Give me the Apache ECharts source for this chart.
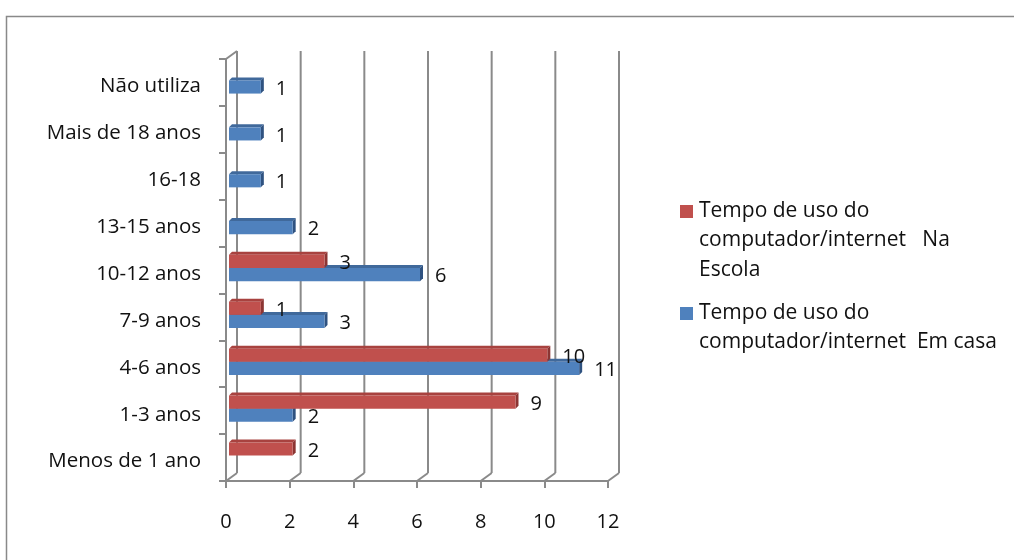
<!DOCTYPE html>
<html>
<head>
<meta charset="utf-8">
<script src="https://cdn.jsdelivr.net/npm/echarts@6/dist/echarts.min.js"></script>
<style>
  html, body { margin: 0; padding: 0; background: #ffffff; }
  #chart { width: 1014px; height: 560px; }
</style>
</head>
<body>
<div id="chart"></div>
<script>
// Categories, bottom to top on the vertical axis
const categories = ['Menos de 1 ano', '1-3 anos', '4-6 anos', '7-9 anos', '10-12 anos', '13-15 anos', '16-18', 'Mais de 18 anos', 'Não utiliza'];
// Series values (null = no bar)
const escola = [2, 9, 10, 1, 3, null, null, null, null];
const casa = [null, 2, 11, 3, 6, 2, 1, 1, 1];
const seriesNames = ['Tempo de uso do computador/internet   Na Escola', 'Tempo de uso do computador/internet  Em casa'];
const legendLines = [
  ['Tempo de uso do', 'computador/internet   Na', 'Escola'],
  ['Tempo de uso do', 'computador/internet  Em casa']
];
const xTicks = [0, 2, 4, 6, 8, 10, 12];

const FONT = 'Open Sans';
const TEXT_COLOR = '#111111';
const DEPTH = [11, -8];      // offset from front plane to back wall
const BAR_DEPTH = 3;         // visible depth of each bar
const palette = {
  escola: { front: '#C0504D', top: '#A8423F', side: '#8C3533' },
  casa:   { front: '#4F81BD', top: '#40699B', side: '#2F5280' }
};

function toItems(arr) {
  const out = [];
  arr.forEach((v, i) => { if (v !== null) out.push([v, i]); });
  return out;
}

// 3D bar: front face, top face, right side face and value label
function barRenderer(colors, slot) {
  return function (params, api) {
    const v = api.value(0);
    const ci = api.value(1);
    const p0 = api.coord([0, ci]);
    const p1 = api.coord([v, ci]);
    const band = api.size([0, 1])[1];
    const thick = band * 0.28;
    const c = p0[1];
    const top = slot === 0 ? c - 2 - thick : c - 2;
    const x0 = p0[0] + 3;
    const x1 = p1[0] + 3;
    const d = BAR_DEPTH;
    return {
      type: 'group',
      children: [
        { type: 'polygon', shape: { points: [[x0, top], [x1, top], [x1 + d, top - d], [x0 + d, top - d]] }, style: { fill: colors.top } },
        { type: 'polygon', shape: { points: [[x1, top], [x1 + d, top - d], [x1 + d, top + thick - d], [x1, top + thick]] }, style: { fill: colors.side } },
        { type: 'rect', shape: { x: x0, y: top, width: x1 - x0, height: thick }, style: { fill: colors.front } },
        { type: 'text', x: x1 + 15, y: top + thick / 2 + 2, style: { text: String(v), fill: TEXT_COLOR, font: '20px "' + FONT + '"', align: 'left', verticalAlign: 'middle' }, z2: 10 }
      ]
    };
  };
}

// Back wall gridlines and floor diagonals
function frameRenderer(params, api) {
  const cs = params.coordSys;
  const v = api.value(0);
  const x = api.coord([v, 0])[0];
  const bottom = cs.y + cs.height;
  const lineStyle = { stroke: '#8a8a8a', lineWidth: 2 };
  const children = [
    { type: 'line', shape: { x1: x, y1: bottom, x2: x + DEPTH[0], y2: bottom + DEPTH[1] }, style: lineStyle },
    { type: 'line', shape: { x1: x + DEPTH[0], y1: bottom + DEPTH[1], x2: x + DEPTH[0], y2: cs.y + DEPTH[1] }, style: lineStyle }
  ];
  if (v === 0) {
    children.push({ type: 'line', shape: { x1: x, y1: cs.y, x2: x + DEPTH[0], y2: cs.y + DEPTH[1] }, style: lineStyle });
  }
  return { type: 'group', children: children };
}

const chart = echarts.init(document.getElementById('chart'), null, { renderer: 'canvas' });

const legendGraphics = [];
const legendColors = [palette.escola.front, palette.casa.front];
const legendTops = [211, 313];
legendLines.forEach((lines, i) => {
  legendGraphics.push({ type: 'rect', left: 680, top: legendTops[i] - 6, shape: { width: 13, height: 13 }, style: { fill: legendColors[i] } });
  legendGraphics.push({ type: 'text', left: 699, top: legendTops[i] - 15, style: { text: lines.join('\n'), fill: TEXT_COLOR, font: '21px "' + FONT + '"', lineHeight: 29.5 } });
});

chart.setOption({
  animation: false,
  backgroundColor: '#ffffff',
  textStyle: { fontFamily: FONT },
  grid: { left: 226, right: 406, top: 59, bottom: 79, containLabel: false },
  xAxis: {
    type: 'value', min: 0, max: 12, interval: 2,
    axisLine: { show: true, lineStyle: { color: '#8a8a8a', width: 2 } },
    axisTick: { show: true, length: 7, lineStyle: { color: '#8a8a8a', width: 2 } },
    axisLabel: { color: TEXT_COLOR, fontSize: 20, fontFamily: FONT, margin: 31 },
    splitLine: { show: false }
  },
  yAxis: {
    type: 'category', data: categories, boundaryGap: true,
    axisLine: { show: true, lineStyle: { color: '#8a8a8a', width: 2 } },
    axisTick: { show: true, length: 7, lineStyle: { color: '#8a8a8a', width: 2 } },
    axisLabel: {
      margin: 25,
      formatter: (v) => '{c|' + v + '}',
      rich: { c: { color: TEXT_COLOR, fontSize: 20.5, fontFamily: FONT, padding: [8, 0, 0, 0] } }
    },
    splitLine: { show: false }
  },
  graphic: [
    { type: 'rect', left: 4, top: 14, shape: { width: 1100, height: 600 }, style: { fill: 'none', stroke: '#898989', lineWidth: 1.5 }, z: -10 }
  ].concat(legendGraphics),
  series: [
    { type: 'custom', name: 'frame', data: xTicks.map(t => [t]), renderItem: frameRenderer, encode: { x: 0 }, z: 1, silent: true },
    { type: 'custom', name: seriesNames[1], data: toItems(casa), renderItem: barRenderer(palette.casa, 1), encode: { x: 0, y: 1 }, z: 2 },
    { type: 'custom', name: seriesNames[0], data: toItems(escola), renderItem: barRenderer(palette.escola, 0), encode: { x: 0, y: 1 }, z: 3 }
  ]
});
</script>
</body>
</html>
